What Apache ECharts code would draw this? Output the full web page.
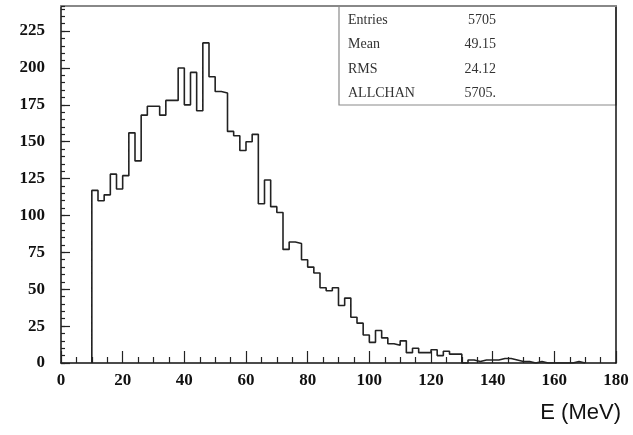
<!DOCTYPE html>
<html>
<head>
<meta charset="utf-8">
<title>E (MeV)</title>
<script src="https://cdn.jsdelivr.net/npm/echarts/dist/echarts.min.js"></script>
<style>
  html, body { margin: 0; padding: 0; background: #fff; }
  #chart { width: 633px; height: 435px; }
</style>
</head>
<body>
<div id="chart"></div>
<script>
// Energy histogram: 2 MeV bins starting at 10 MeV
const binStart = 10;
const binWidth = 2;
const counts = [
  117, 110, 114, 128, 118, 127, 156, 137, 168, 174,
  174, 168, 178, 178, 200, 175, 197, 171, 217, 194,
  184, 183, 157, 154, 144, 150, 155, 108, 124, 106,
  102, 77, 82, 81, 70, 65, 61, 51, 49, 51,
  39, 44, 31, 27, 19, 14, 22, 17, 13, 12,
  15, 7, 10, 7, 7, 9, 5, 8, 6, 6,
  0, 2, 1, 2, 2, 2, 3, 3, 2, 1,
  1, 0, 1, 0, 0, 0, 0, 0, 1, 0
];

// Statistics box
const statNames = ['Entries', 'Mean', 'RMS', 'ALLCHAN'];
const statValues = ['5705', '49.15', '24.12', '5705.'];

const xMin = 0, xMax = 180, xStep = 20;
const yMin = 0, yMax = 242, yStep = 25;
const axisTitle = 'E (MeV)';

// Outline of the histogram as a stepped line through the bin edges
const outline = [[binStart, 0]];
counts.forEach((c, i) => outline.push([binStart + i * binWidth, c]));
outline.push([binStart + counts.length * binWidth, 0]);

const serif = '"Liberation Serif", "DejaVu Serif", serif';
const tickLabel = { fontFamily: serif, fontWeight: 'bold', fontSize: 17, color: '#111' };

const chart = echarts.init(document.getElementById('chart'), null, { renderer: 'canvas' });

chart.setOption({
  animation: false,
  backgroundColor: '#fff',
  grid: { left: 61, right: 17, top: 6, bottom: 72, containLabel: false },
  xAxis: [
    {
      type: 'value', min: xMin, max: xMax, interval: xStep,
      position: 'bottom',
      axisLine: { show: true, onZero: false, lineStyle: { color: '#111', width: 1.5 } },
      axisTick: { show: true, inside: true, length: 12, lineStyle: { color: '#222', width: 1.2 } },
      minorTick: { show: true, splitNumber: 4, length: 6, lineStyle: { color: '#222', width: 1.2 } },
      splitLine: { show: false },
      axisLabel: Object.assign({ margin: 9 }, tickLabel)
    },
    {
      type: 'value', min: xMin, max: xMax, position: 'top',
      axisLine: { show: true, onZero: false, lineStyle: { color: '#888', width: 2 } },
      axisTick: { show: false }, axisLabel: { show: false }, splitLine: { show: false }
    }
  ],
  yAxis: [
    {
      type: 'value', min: yMin, max: yMax, interval: yStep,
      position: 'left',
      axisLine: { show: true, onZero: false, lineStyle: { color: '#111', width: 1.5 } },
      axisTick: { show: true, inside: true, length: 9, lineStyle: { color: '#222', width: 1.2 } },
      splitLine: { show: false },
      axisLabel: Object.assign({ margin: 16, showMaxLabel: false }, tickLabel)
    },
    {
      type: 'value', min: yMin, max: yMax, interval: yStep / 5,
      position: 'left',
      axisLine: { show: false },
      axisTick: { show: true, inside: true, length: 4, lineStyle: { color: '#222', width: 1.2 } },
      axisLabel: { show: false }, splitLine: { show: false }
    },
    {
      type: 'value', min: yMin, max: yMax, position: 'right',
      axisLine: { show: true, onZero: false, lineStyle: { color: '#111', width: 1.5 } },
      axisTick: { show: false }, axisLabel: { show: false }, splitLine: { show: false }
    }
  ],
  series: [
    {
      type: 'line',
      xAxisIndex: 0, yAxisIndex: 0,
      data: outline,
      step: 'end',
      symbol: 'none',
      clip: true,
      lineStyle: { color: '#222', width: 1.6 },
      z: 3
    }
  ]
});

// Statistics panel in the upper right corner of the frame
const boxLeft = 339, boxTop = 6, boxRight = 616, boxBottom = 105;
const rowGap = 24.5;
const statChildren = [
  {
    type: 'rect',
    shape: { x: boxLeft, y: boxTop, width: boxRight - boxLeft, height: boxBottom - boxTop },
    style: { fill: '#fff', stroke: '#8a8a8a', lineWidth: 1.2 }
  }
];
statNames.forEach((name, i) => {
  statChildren.push({
    type: 'text', x: 348, y: 20 + i * rowGap,
    style: { text: name, font: '14px ' + serif, fill: '#333', align: 'left', verticalAlign: 'middle' }
  });
  statChildren.push({
    type: 'text', x: 496, y: 20 + i * rowGap,
    style: { text: statValues[i], font: '14px ' + serif, fill: '#333', align: 'right', verticalAlign: 'middle' }
  });
});

chart.setOption({
  graphic: [
    { type: 'group', z: 10, children: statChildren },
    {
      type: 'text', x: 621, y: 413, z: 10,
      style: { text: axisTitle, font: '22px "Liberation Sans", Arial, sans-serif', fill: '#111', align: 'right', verticalAlign: 'middle' }
    }
  ]
});
</script>
</body>
</html>
